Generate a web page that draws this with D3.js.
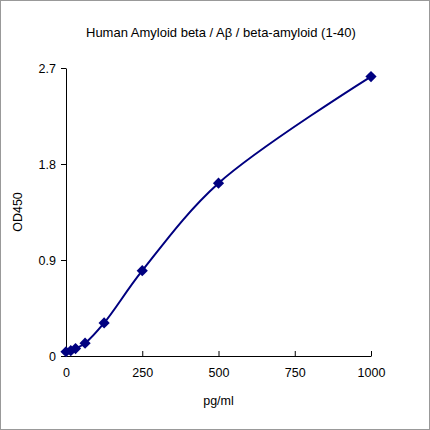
<!DOCTYPE html>
<html><head><meta charset="utf-8">
<script src="https://cdn.jsdelivr.net/npm/d3@7"></script>
<style>body{margin:0;background:#fff}</style>
</head><body><div class="chart"></div>
<script>
const conc = [0, 15.6, 31.25, 62.5, 125, 250, 500, 1000];
const od = [0.04, 0.05, 0.07, 0.12, 0.31, 0.80, 1.62, 2.62];
const yTicks = [0, 0.9, 1.8, 2.7];
const xTicks = [0, 250, 500, 750, 1000];

const margin = {top: 68, right: 59, bottom: 74, left: 66};
const width = 430 - margin.left - margin.right,
      height = 430 - margin.top - margin.bottom;

let root = d3.select(".chart").append("svg")
    .attr("width", 430).attr("height", 430)
    .style("font-family", "Arial, 'Liberation Sans', sans-serif");

root.append("rect").attr("x", 0.5).attr("y", 0.5).attr("width", 429).attr("height", 429)
    .attr("fill", "#fff").attr("stroke", "#999");

let svg = root.append("g").attr("transform", `translate(${margin.left},${margin.top})`);

const x = d3.scaleLinear().domain([0, 1000]).range([0, width]);
const y = d3.scaleLinear().domain([0, 2.7]).range([height, 0]);

let xAxis = d3.axisBottom(x).tickValues(xTicks).tickFormat(d3.format("d"))
    .tickSizeInner(-5).tickSizeOuter(0).tickPadding(12);
let yAxis = d3.axisLeft(y).tickValues(yTicks).tickFormat(d => d).tickSizeInner(5).tickSizeOuter(0).tickPadding(5);

svg.append("g").attr("transform", `translate(0,${height})`).call(xAxis);
svg.append("g").call(yAxis);
svg.selectAll(".tick text").attr("font-size", 12.5).attr("fill", "#000");
svg.selectAll(".domain, .tick line").attr("stroke", "#000");

const pts = conc.map((c, i) => [c, od[i]]);
svg.append("path").datum(pts)
    .attr("d", d3.line().x(d => x(d[0])).y(d => y(d[1])).curve(d3.curveCatmullRom))
    .attr("fill", "none").attr("stroke", "#000080").attr("stroke-width", 2);

svg.selectAll(".pt").data(pts).enter().append("path")
    .attr("class", "pt")
    .attr("transform", d => `translate(${x(d[0])},${y(d[1])})`)
    .attr("d", d3.symbol().type(d3.symbolDiamond2).size(80))
    .attr("fill", "#000080");

svg.append("text").attr("x", width / 2).attr("y", height + 49)
    .attr("text-anchor", "middle").attr("font-size", 12.5).text("pg/ml");
svg.append("text").attr("transform", `translate(-44,${height / 2}) rotate(-90)`)
    .attr("text-anchor", "middle").attr("font-size", 12.5).text("OD450");
root.append("text").attr("x", 86).attr("y", 37).attr("font-size", 13)
    .text("Human Amyloid beta / Aβ / beta-amyloid (1-40)");
</script>
</body></html>
